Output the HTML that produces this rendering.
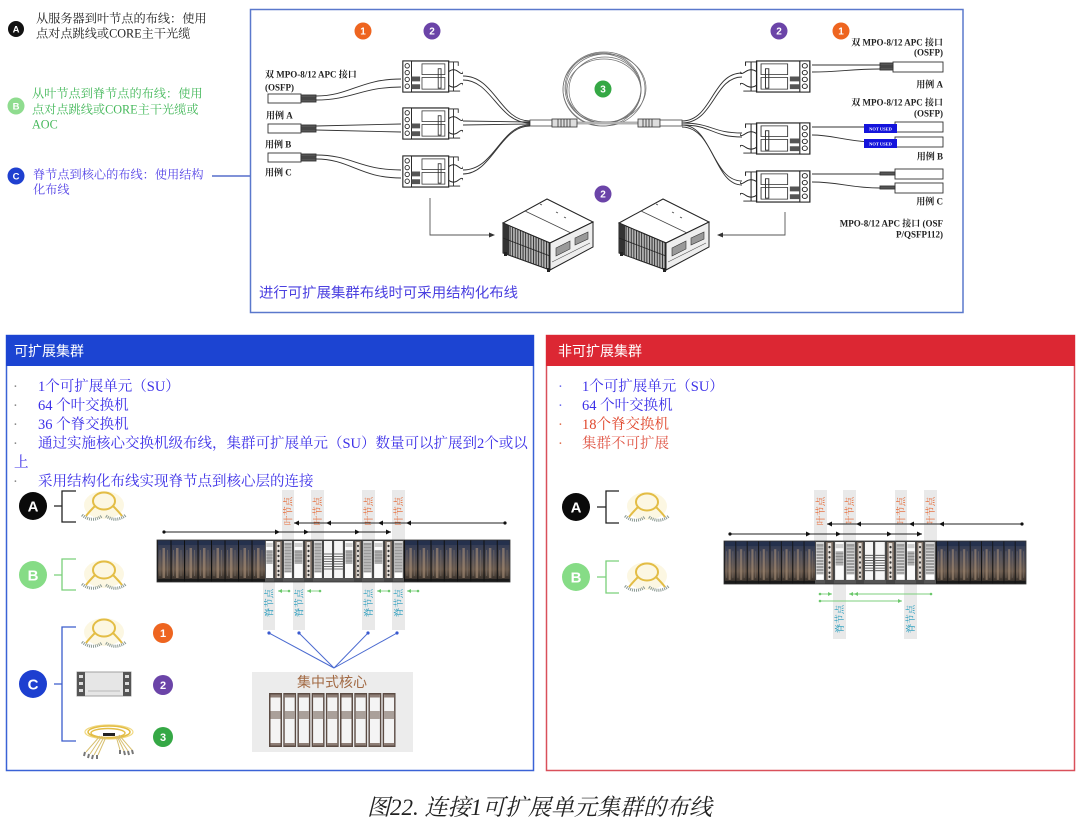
<!DOCTYPE html>
<html><head><meta charset="utf-8"><style>
html,body{margin:0;padding:0;background:#fff;}
svg{display:block;}
.sf{font-family:"Liberation Serif","Noto Serif CJK SC",serif;}
.ss{font-family:"Liberation Sans","Noto Sans CJK SC",sans-serif;}
</style></head><body>
<svg width="1080" height="825" viewBox="0 0 1080 825" xmlns="http://www.w3.org/2000/svg">
<defs>
 <linearGradient id="rk" x1="0" y1="0" x2="0" y2="1">
  <stop offset="0" stop-color="#2b3652"/><stop offset="0.35" stop-color="#474856"/><stop offset="0.7" stop-color="#6b5a4c"/><stop offset="1" stop-color="#2a2622"/>
 </linearGradient>
 <g id="rtile">
  <rect width="13.5" height="42" fill="url(#rk)"/>
  <rect x="0" width="1.1" height="42" fill="#111"/>
  <rect x="1" y="0" width="12.5" height="5" fill="#25314d"/>
  <rect x="5.5" y="8" width="2.5" height="30" fill="#a89078" opacity="0.6"/>
  <rect x="2.5" y="10" width="1" height="26" fill="#7a7068" opacity="0.6"/>
  <rect x="10" y="10" width="1" height="26" fill="#7a7068" opacity="0.6"/>
  <rect x="1" y="39" width="12.5" height="3" fill="#1a1a1a"/>
 </g>
 <pattern id="pL1" x="157" y="540" width="13.5" height="42" patternUnits="userSpaceOnUse" viewBox="0 0 13.5 42" preserveAspectRatio="none"><use href="#rtile"/></pattern>
 <pattern id="pL2" x="404" y="540" width="13.25" height="42" patternUnits="userSpaceOnUse" viewBox="0 0 13.5 42" preserveAspectRatio="none"><use href="#rtile"/></pattern>
 <pattern id="pR1" x="724" y="541" width="11.375" height="43" patternUnits="userSpaceOnUse" viewBox="0 0 13.5 42" preserveAspectRatio="none"><use href="#rtile"/></pattern>
 <pattern id="pR2" x="936" y="541" width="11.25" height="43" patternUnits="userSpaceOnUse" viewBox="0 0 13.5 42" preserveAspectRatio="none"><use href="#rtile"/></pattern>
 <pattern id="vl" x="0" y="0" width="2.6" height="10" patternUnits="userSpaceOnUse"><rect width="2.6" height="10" fill="#b4b4b4"/><rect width="0.9" height="10" fill="#2a2a2a"/></pattern>

 <symbol id="W" viewBox="0 0 10 42" preserveAspectRatio="none">
  <rect x="0.5" y="0.5" width="9" height="41" fill="#fafafa" stroke="#4a4a4a"/>
  <rect x="1.5" y="3" width="7" height="4" fill="#cfcfcf"/>
  <rect x="1.5" y="10" width="7" height="14" fill="#b0b0b0"/>
  <path d="M1.5,12H8.5M1.5,15H8.5M1.5,18H8.5M1.5,21H8.5" stroke="#808080" stroke-width="0.7"/>
  <rect x="0" y="38" width="10" height="4" fill="#555"/>
 </symbol>
 <symbol id="D" viewBox="0 0 10 42" preserveAspectRatio="none">
  <rect x="0.5" y="0.5" width="9" height="41" fill="#7a6e64" stroke="#3a3a3a"/>
  <rect x="3" y="2" width="4" height="36" fill="#e8e2dc"/>
  <g fill="#333"><circle cx="5" cy="6" r="1.2"/><circle cx="5" cy="11" r="1.2"/><circle cx="5" cy="16" r="1.2"/><circle cx="5" cy="21" r="1.2"/><circle cx="5" cy="26" r="1.2"/><circle cx="5" cy="31" r="1.2"/><circle cx="5" cy="35" r="1.2"/></g>
  <rect x="0" y="38" width="10" height="4" fill="#444"/>
 </symbol>
 <symbol id="S" viewBox="0 0 10 42" preserveAspectRatio="none">
  <rect x="0.5" y="0.5" width="9" height="41" fill="#d8d8d8" stroke="#4a4a4a"/>
  <rect x="1.5" y="3" width="7" height="29" fill="#9a9a9a"/>
  <path d="M1.5,6H8.5M1.5,9H8.5M1.5,12H8.5M1.5,15H8.5M1.5,18H8.5M1.5,21H8.5M1.5,24H8.5M1.5,27H8.5M1.5,30H8.5" stroke="#e4e4e4" stroke-width="0.8"/>
  <rect x="1.5" y="33" width="7" height="5" fill="#fff"/>
  <rect x="0" y="38" width="10" height="4" fill="#555"/>
 </symbol>
 <symbol id="H" viewBox="0 0 10 42" preserveAspectRatio="none">
  <rect x="0.5" y="0.5" width="9" height="41" fill="#f6f6f6" stroke="#4a4a4a"/>
  <path d="M1,14H9M1,16.5H9M1,19H9M1,21.5H9M1,24H9M1,26.5H9M1,29H9" stroke="#444" stroke-width="0.8"/>
  <rect x="0" y="38" width="10" height="4" fill="#555"/>
 </symbol>
 <symbol id="CR" viewBox="0 0 13 54" preserveAspectRatio="none">
  <rect x="0.75" y="0.75" width="11.5" height="52.5" fill="#f4f4f4" stroke="#5c4c44" stroke-width="1.5"/>
  <rect x="1.5" y="1.5" width="10" height="3" fill="#8e7e76"/>
  <rect x="1.5" y="18" width="10" height="8" fill="#c8c0bc"/>
  <path d="M1.5,19H11.5M1.5,21H11.5M1.5,23H11.5M1.5,25H11.5" stroke="#7a6a62" stroke-width="0.8"/>
  <rect x="1.5" y="50" width="10" height="2.5" fill="#8e7e76"/>
 </symbol>
 <symbol id="cas" viewBox="0 0 65 34" preserveAspectRatio="none">
  <rect x="2" y="1" width="48" height="32" fill="#fff" stroke="#222" stroke-width="1.2"/>
  <rect x="2" y="1" width="9" height="32" fill="#fff" stroke="#222" stroke-width="1"/>
  <g fill="#fff" stroke="#222" stroke-width="0.9"><circle cx="6.5" cy="6" r="2.3"/><circle cx="6.5" cy="13" r="2.3"/><circle cx="6.5" cy="20" r="2.3"/><circle cx="6.5" cy="27" r="2.3"/></g>
  <rect x="11" y="17" width="9" height="5" fill="#555"/>
  <rect x="11" y="25" width="9" height="5" fill="#555"/>
  <rect x="22" y="4" width="24" height="11" fill="none" stroke="#333" stroke-width="0.8"/>
  <rect x="22" y="18" width="24" height="12" fill="none" stroke="#333" stroke-width="0.8"/>
  <rect x="39" y="9" width="3" height="20" fill="none" stroke="#333" stroke-width="0.9"/>
  <path d="M50,2H60V6M50,32H62M55,2V32" fill="none" stroke="#222" stroke-width="0.9"/>
  <path d="M50,12q5,-4 10,0t5,0M50,26q5,4 10,0t5,0" fill="none" stroke="#222" stroke-width="0.9"/>
 </symbol>
 <g id="ring">
  <ellipse cx="22" cy="14" rx="20" ry="14" fill="#fbf4d6" opacity="0.7"/>
  <ellipse cx="22" cy="10" rx="11" ry="8.5" fill="none" stroke="#e3bd45" stroke-width="2"/>
  <path d="M13,15Q7,21 4,25M31,15Q37,21 40,25" fill="none" stroke="#e3bd45" stroke-width="2"/>
  <path d="M0,24Q10,32 20,25M24,25Q34,32 44,24" fill="none" stroke="#8c9a94" stroke-width="3" stroke-dasharray="1 1"/>
 </g>
 <g id="srv">
  <polygon points="503,223 547,199 593,222 550,243" fill="#fff" stroke="#222" stroke-width="1"/>
  <path d="M525,211L571,233M540,204l2,1M556,212l2,1M564,217l2,1" stroke="#444" stroke-width="0.7" fill="none"/>
  <polygon points="503,223 550,243 550,270 503,253" fill="url(#vl)" stroke="#222" stroke-width="1"/>
  <polygon points="503,223 509,226 509,255 503,253" fill="#333"/>
  <path d="M503,238L550,256" stroke="#222" stroke-width="0.8"/>
  <polygon points="550,243 593,222 593,247 550,270" fill="#eee" stroke="#222" stroke-width="1"/>
  <path d="M556,248l14,-7v8l-14,7zM575,238l13,-6v7l-13,6z" fill="#999" stroke="#333" stroke-width="0.6"/>
  <path d="M552,262l38,-19" stroke="#555" stroke-width="0.6"/>
  <rect x="547" y="268" width="3" height="4" fill="#222"/><rect x="504" y="252" width="3" height="4" fill="#222"/>
 </g>
</defs>

<!-- ===== Top-left legend ===== -->
<circle cx="16" cy="29" r="8" fill="#111"/>
<text x="16" y="32.5" font-size="9.5" fill="#fff" text-anchor="middle" font-weight="bold" class="ss">A</text>
<text x="36" y="22.5" font-size="12.2" fill="#222" class="sf">从服务器到叶节点的布线：使用</text>
<text x="36" y="37.5" font-size="12.2" fill="#222" class="sf">点对点跳线或CORE主干光缆</text>

<circle cx="16" cy="106" r="8.5" fill="#8fdc8f"/>
<text x="16" y="109.5" font-size="9.5" fill="#fff" text-anchor="middle" font-weight="bold" class="ss">B</text>
<text x="32" y="97.5" font-size="12.2" fill="#44b85a" class="sf">从叶节点到脊节点的布线：使用</text>
<text x="32" y="113.5" font-size="12.2" fill="#44b85a" class="sf">点对点跳线或CORE主干光缆或</text>
<text x="32" y="128.5" font-size="12.2" fill="#44b85a" class="sf">AOC</text>

<circle cx="16" cy="176" r="8.5" fill="#1f40d0"/>
<text x="16" y="179.5" font-size="9.5" fill="#fff" text-anchor="middle" font-weight="bold" class="ss">C</text>
<text x="33" y="178.5" font-size="12.2" fill="#5544e6" class="sf">脊节点到核心的布线：使用结构</text>
<text x="33" y="193.5" font-size="12.2" fill="#5544e6" class="sf">化布线</text>
<line x1="212" y1="176" x2="250" y2="176" stroke="#3550c0" stroke-width="1.2"/>

<!-- ===== Top frame ===== -->
<rect x="250.5" y="9.5" width="712.5" height="303" fill="none" stroke="#5a78cc" stroke-width="1.5"/>

<g class="ss" font-size="10" font-weight="bold" fill="#fff" text-anchor="middle">
 <circle cx="363" cy="31" r="8.5" fill="#ee6520"/><text x="363" y="34.5">1</text>
 <circle cx="432" cy="31" r="8.5" fill="#6b44a8"/><text x="432" y="34.5">2</text>
 <circle cx="779" cy="31" r="8.5" fill="#6b44a8"/><text x="779" y="34.5">2</text>
 <circle cx="841" cy="31" r="8.5" fill="#ee6520"/><text x="841" y="34.5">1</text>
</g>

<g fill="none" stroke="#707070" stroke-width="0.7">
 <ellipse cx="604" cy="89" rx="41" ry="37"/>
 <ellipse cx="603" cy="88" rx="38" ry="35"/>
 <ellipse cx="605" cy="90" rx="36" ry="33"/>
 <ellipse cx="602" cy="90" rx="39" ry="36"/>
 <ellipse cx="606" cy="88" rx="40" ry="34"/>
 <ellipse cx="604" cy="91" rx="37" ry="32"/>
</g>
<circle cx="603" cy="89" r="8.5" fill="#35a845"/>
<text x="603" y="92.5" font-size="10" font-weight="bold" fill="#fff" text-anchor="middle" class="ss">3</text>

<line x1="575" y1="123" x2="640" y2="123" stroke="#666" stroke-width="2.6"/>
<line x1="575" y1="123" x2="640" y2="123" stroke="#fff" stroke-width="1"/>
<rect x="530" y="120" width="22" height="6" fill="#fff" stroke="#444" stroke-width="0.8"/>
<rect x="552" y="119" width="25" height="8" fill="#ddd" stroke="#333" stroke-width="0.8"/>
<path d="M558,119v8M561,119v8M564,119v8M567,119v8M570,119v8" stroke="#333" stroke-width="0.8"/>
<rect x="638" y="119" width="22" height="8" fill="#ddd" stroke="#333" stroke-width="0.8"/>
<path d="M643,119v8M646,119v8M649,119v8M652,119v8" stroke="#333" stroke-width="0.8"/>
<rect x="660" y="120" width="22" height="6" fill="#fff" stroke="#444" stroke-width="0.8"/>

<g fill="none" stroke="#333" stroke-width="0.9">
 <path d="M463,76C495,76 500,121 530,121"/>
 <path d="M463,80C492,80 498,123 530,123"/>
 <path d="M463,121L530,122"/>
 <path d="M463,125L530,124"/>
 <path d="M463,170C495,170 500,125 530,125"/>
 <path d="M463,174C492,174 500,126 530,126"/>
 <path d="M682,121C712,121 712,73 742,73"/>
 <path d="M682,123C714,123 714,77 742,77"/>
 <path d="M682,123C712,123 712,133 742,133"/>
 <path d="M682,125C712,125 712,137 742,137"/>
 <path d="M682,125C712,125 712,181 742,181"/>
 <path d="M682,127C714,127 714,185 742,185"/>
 <path d="M316,96C350,96 360,79 401,79"/>
 <path d="M316,100C352,100 362,87 401,87"/>
 <path d="M316,126L401,124"/>
 <path d="M316,130L401,132"/>
 <path d="M316,155C352,155 360,170 401,170"/>
 <path d="M316,159C350,159 360,178 401,178"/>
 <path d="M812,65L880,65"/>
 <path d="M812,72C840,72 850,69 880,69"/>
 <path d="M812,127L880,127"/>
 <path d="M812,135C835,135 845,142 880,142"/>
 <path d="M812,174L880,174"/>
 <path d="M812,182C840,182 850,188 880,188"/>
</g>

<use href="#cas" x="401" y="60" width="62" height="33"/>
<use href="#cas" x="401" y="107" width="62" height="33"/>
<use href="#cas" x="401" y="155" width="62" height="33"/>
<use href="#cas" transform="translate(812,60) scale(-1,1)" width="72" height="33"/>
<use href="#cas" transform="translate(812,122) scale(-1,1)" width="72" height="33"/>
<use href="#cas" transform="translate(812,170) scale(-1,1)" width="72" height="33"/>

<g stroke="#333" stroke-width="0.9">
 <rect x="268" y="94" width="33" height="9" fill="#fff"/><rect x="301" y="95" width="15" height="3" fill="#555"/><rect x="301" y="99" width="15" height="3" fill="#555"/>
 <rect x="268" y="124" width="33" height="9" fill="#fff"/><rect x="301" y="125" width="15" height="3" fill="#555"/><rect x="301" y="129" width="15" height="3" fill="#555"/>
 <rect x="268" y="153" width="33" height="9" fill="#fff"/><rect x="301" y="154" width="15" height="3" fill="#555"/><rect x="301" y="158" width="15" height="3" fill="#555"/>
</g>
<g stroke="#333" stroke-width="0.9">
 <rect x="893" y="62" width="50" height="10" fill="#fff"/><rect x="880" y="63" width="13" height="3" fill="#555"/><rect x="880" y="67" width="13" height="3" fill="#555"/>
 <rect x="895" y="122" width="48" height="10" fill="#fff"/><rect x="880" y="125" width="15" height="3" fill="#555"/>
 <rect x="895" y="137" width="48" height="10" fill="#fff"/><rect x="880" y="140" width="15" height="3" fill="#555"/>
 <rect x="895" y="169" width="48" height="10" fill="#fff"/><rect x="880" y="172" width="15" height="3" fill="#555"/>
 <rect x="895" y="183" width="48" height="10" fill="#fff"/><rect x="880" y="186" width="15" height="3" fill="#555"/>
</g>
<rect x="864" y="124" width="33" height="9" fill="#1414dc"/>
<rect x="864" y="139" width="33" height="9" fill="#1414dc"/>
<text x="880.5" y="130.5" font-size="4.5" font-weight="bold" fill="#fff" text-anchor="middle" class="sf">NOT USED</text>
<text x="880.5" y="145.5" font-size="4.5" font-weight="bold" fill="#fff" text-anchor="middle" class="sf">NOT USED</text>

<g class="sf" font-size="9" font-weight="bold" fill="#222">
 <text x="265" y="77.5">双 MPO-8/12 APC 接口</text>
 <text x="265" y="90.5">(OSFP)</text>
 <text x="266" y="118.5">用例 A</text>
 <text x="265" y="147.5">用例 B</text>
 <text x="265" y="175.5">用例 C</text>
</g>
<g class="sf" font-size="9" font-weight="bold" fill="#222" text-anchor="end">
 <text x="943" y="45.5">双 MPO-8/12 APC 接口</text>
 <text x="943" y="55.5">(OSFP)</text>
 <text x="943" y="87.5">用例 A</text>
 <text x="943" y="105.5">双 MPO-8/12 APC 接口</text>
 <text x="943" y="116.5">(OSFP)</text>
 <text x="943" y="159.5">用例 B</text>
 <text x="943" y="204.5">用例 C</text>
 <text x="943" y="226.5">MPO-8/12 APC 接口 (OSF</text>
 <text x="943" y="237.5">P/QSFP112)</text>
</g>

<use href="#srv"/>
<use href="#srv" x="116"/>
<circle cx="603" cy="194" r="8.5" fill="#6b44a8"/>
<text x="603" y="197.5" font-size="10" font-weight="bold" fill="#fff" text-anchor="middle" class="ss">2</text>
<path d="M430,198V235H490" fill="none" stroke="#555" stroke-width="0.9"/>
<polygon points="495,235 489,232.5 489,237.5" fill="#333"/>
<path d="M785,212V235H722" fill="none" stroke="#555" stroke-width="0.9"/>
<polygon points="717,235 723,232.5 723,237.5" fill="#333"/>

<text x="259" y="297.5" font-size="14.4" fill="#4b40e0" class="ss">进行可扩展集群布线时可采用结构化布线</text>

<!-- ===== Bottom-left panel ===== -->
<rect x="6.5" y="335.5" width="527" height="435" fill="none" stroke="#3a62d6" stroke-width="1.5"/>
<rect x="6" y="335" width="528" height="31" fill="#1c44d2"/>
<text x="14" y="356" font-size="14" fill="#fff" class="ss">可扩展集群</text>
<g class="sf" font-size="14.5">
 <g fill="#888"><text x="13" y="391">·</text><text x="13" y="410">·</text><text x="13" y="429">·</text><text x="13" y="448">·</text><text x="13" y="486">·</text></g>
 <g fill="#3c30e8">
  <text x="38" y="391">1个可扩展单元（SU）</text>
  <text x="38" y="410">64 个叶交换机</text>
  <text x="38" y="429">36 个脊交换机</text>
  <text x="38" y="448">通过实施核心交换机级布线，集群可扩展单元（SU）数量可以扩展到2个或以</text>
  <text x="14" y="467">上</text>
  <text x="38" y="486">采用结构化布线实现脊节点到核心层的连接</text>
 </g>
</g>

<circle cx="33" cy="506" r="14" fill="#0a0a0a"/>
<text x="33" y="511.5" font-size="15" font-weight="bold" fill="#fff" text-anchor="middle" class="ss">A</text>
<path d="M54,506H62M76,491H62V522H76" fill="none" stroke="#222" stroke-width="1.3"/>
<use href="#ring" x="82" y="491"/>
<circle cx="33" cy="575" r="14" fill="#86dc86"/>
<text x="33" y="580.5" font-size="15" font-weight="bold" fill="#fff" text-anchor="middle" class="ss">B</text>
<path d="M54,575H62M76,559H62V590H76" fill="none" stroke="#7ad07a" stroke-width="1.3"/>
<use href="#ring" x="82" y="560"/>
<circle cx="33" cy="684" r="14" fill="#1d3fd0"/>
<text x="33" y="689.5" font-size="15" font-weight="bold" fill="#fff" text-anchor="middle" class="ss">C</text>
<path d="M54,684H62M76,627H62V741H76" fill="none" stroke="#3a5ccc" stroke-width="1.3"/>
<use href="#ring" x="82" y="618"/>
<rect x="77" y="672" width="54" height="24" fill="#e6e6e6" stroke="#a0a0a0"/>
<rect x="77" y="672" width="8" height="24" fill="#555"/><rect x="123" y="672" width="8" height="24" fill="#555"/>
<g fill="#ddd"><rect x="79" y="675" width="4" height="3"/><rect x="79" y="682" width="4" height="3"/><rect x="79" y="689" width="4" height="3"/><rect x="125" y="675" width="4" height="3"/><rect x="125" y="682" width="4" height="3"/><rect x="125" y="689" width="4" height="3"/></g>
<line x1="88" y1="691" x2="120" y2="691" stroke="#bbb"/>
<g fill="none">
 <ellipse cx="109" cy="732" rx="24" ry="7" stroke="#f0d880" stroke-width="1.2"/>
 <ellipse cx="109" cy="732" rx="21" ry="6" stroke="#e3bd45" stroke-width="1.6"/>
 <ellipse cx="108" cy="733" rx="17" ry="4.5" stroke="#e3bd45" stroke-width="1.4"/>
 <path d="M100,736L86,752M102,736L90,754M104,737L94,755M106,737L98,755M116,736L120,750M117,736L124,751M118,736L128,751M119,735L132,750" stroke="#d8c070" stroke-width="1"/>
 <path d="M85,752l-1,4M89,754l-1,4M93,755l-1,4M97,755l0,4M120,750l0,4M124,751l1,4M128,751l1,4M132,750l1,4" stroke="#777" stroke-width="2"/>
</g>
<rect x="103" y="733" width="12" height="3" fill="#222"/>
<g class="ss" font-size="11" font-weight="bold" fill="#fff" text-anchor="middle">
 <circle cx="163" cy="633" r="10" fill="#ee6520"/><text x="163" y="637">1</text>
 <circle cx="163" cy="685" r="10" fill="#6b44a8"/><text x="163" y="689">2</text>
 <circle cx="163" cy="737" r="10" fill="#35a845"/><text x="163" y="741">3</text>
</g>

<g fill="#e9e9e9">
 <rect x="282" y="490" width="12" height="50"/><rect x="311" y="490" width="13" height="50"/><rect x="362" y="490" width="13" height="50"/><rect x="392" y="490" width="13" height="50"/>
 <rect x="263" y="582" width="12" height="48"/><rect x="293" y="582" width="12" height="48"/><rect x="362" y="582" width="13" height="48"/><rect x="392" y="582" width="13" height="48"/>
</g>
<rect x="157" y="540" width="108" height="42" fill="url(#pL1)"/>
<rect x="404" y="540" width="106" height="42" fill="url(#pL2)"/>
<use href="#W" x="265" y="540" width="9" height="42"/>
<use href="#D" x="274" y="540" width="9" height="42"/>
<use href="#S" x="283" y="540" width="10" height="42"/>
<use href="#W" x="293" y="540" width="11" height="42"/>
<use href="#D" x="304" y="540" width="9" height="42"/>
<use href="#S" x="313" y="540" width="10" height="42"/>
<use href="#H" x="323" y="540" width="10" height="42"/>
<use href="#H" x="333" y="540" width="11" height="42"/>
<use href="#W" x="344" y="540" width="10" height="42"/>
<use href="#D" x="354" y="540" width="8" height="42"/>
<use href="#S" x="362" y="540" width="11" height="42"/>
<use href="#W" x="373" y="540" width="11" height="42"/>
<use href="#D" x="384" y="540" width="9" height="42"/>
<use href="#S" x="393" y="540" width="11" height="42"/>
<rect x="157" y="540" width="353" height="42" fill="none" stroke="#333" stroke-width="0.8"/>

<g class="sf" font-size="9.5" fill="#e8622a" text-anchor="middle">
 <text transform="translate(288,511) rotate(-90)" dy="0.35em">叶节点</text>
 <text transform="translate(317.5,511) rotate(-90)" dy="0.35em">叶节点</text>
 <text transform="translate(368.5,511) rotate(-90)" dy="0.35em">叶节点</text>
 <text transform="translate(398.5,511) rotate(-90)" dy="0.35em">叶节点</text>
</g>
<g class="sf" font-size="9.5" fill="#219bbd" text-anchor="middle">
 <text transform="translate(269,603) rotate(-90)" dy="0.35em">脊节点</text>
 <text transform="translate(299,603) rotate(-90)" dy="0.35em">脊节点</text>
 <text transform="translate(368.5,603) rotate(-90)" dy="0.35em">脊节点</text>
 <text transform="translate(398.5,603) rotate(-90)" dy="0.35em">脊节点</text>
</g>
<g stroke="#222" stroke-width="0.9"><line x1="164" y1="532" x2="391" y2="532"/><line x1="294" y1="523" x2="505" y2="523"/></g>
<g fill="#111">
 <circle cx="164" cy="532" r="1.6"/><circle cx="505" cy="523" r="1.6"/>
 <polygon points="280,532 275,529.5 275,534.5"/><polygon points="309,532 304,529.5 304,534.5"/><polygon points="360,532 355,529.5 355,534.5"/><polygon points="391,532 386,529.5 386,534.5"/>
 <polygon points="294,523 299,520.5 299,525.5"/><polygon points="326,523 331,520.5 331,525.5"/><polygon points="378,523 383,520.5 383,525.5"/><polygon points="406,523 411,520.5 411,525.5"/>
</g>
<g stroke="#7ccf7c" stroke-width="0.9"><line x1="278" y1="591" x2="289" y2="591"/><line x1="307" y1="591" x2="320" y2="591"/><line x1="377" y1="591" x2="389" y2="591"/><line x1="407" y1="591" x2="418" y2="591"/></g>
<g fill="#6cc86c">
 <polygon points="278,591 282,589 282,593"/><polygon points="307,591 311,589 311,593"/><polygon points="377,591 381,589 381,593"/><polygon points="407,591 411,589 411,593"/>
 <circle cx="289" cy="591" r="1.3"/><circle cx="320" cy="591" r="1.3"/><circle cx="389" cy="591" r="1.3"/><circle cx="418" cy="591" r="1.3"/>
</g>
<g stroke="#4a6ad0" stroke-width="1"><line x1="269" y1="633" x2="334" y2="668"/><line x1="299" y1="633" x2="334" y2="668"/><line x1="368" y1="633" x2="334" y2="668"/><line x1="397" y1="633" x2="334" y2="668"/></g>
<g fill="#3a5ad0"><circle cx="269" cy="633" r="1.6"/><circle cx="299" cy="633" r="1.6"/><circle cx="368" cy="633" r="1.6"/><circle cx="397" cy="633" r="1.6"/></g>
<rect x="252" y="672" width="161" height="80" fill="#ececec"/>
<text x="332" y="687" font-size="14" fill="#a26a44" text-anchor="middle" class="ss">集中式核心</text>
<use href="#CR" x="269" y="693" width="13" height="54"/>
<use href="#CR" x="283.2" y="693" width="13" height="54"/>
<use href="#CR" x="297.4" y="693" width="13" height="54"/>
<use href="#CR" x="311.6" y="693" width="13" height="54"/>
<use href="#CR" x="325.8" y="693" width="13" height="54"/>
<use href="#CR" x="340" y="693" width="13" height="54"/>
<use href="#CR" x="354.2" y="693" width="13" height="54"/>
<use href="#CR" x="368.4" y="693" width="13" height="54"/>
<use href="#CR" x="382.6" y="693" width="13" height="54"/>

<!-- ===== Bottom-right panel ===== -->
<rect x="546.5" y="335.5" width="528" height="435" fill="none" stroke="#d9505a" stroke-width="1.5"/>
<rect x="546" y="335" width="529" height="31" fill="#dc2733"/>
<text x="558" y="356" font-size="14" fill="#fff" class="ss">非可扩展集群</text>
<g class="sf" font-size="14.5">
 <text x="558" y="391" fill="#6a6aee">·</text><text x="558" y="410" fill="#6a6aee">·</text>
 <text x="558" y="429" fill="#e07050">·</text><text x="558" y="448" fill="#e07050">·</text>
 <text x="582" y="391" fill="#3c30e8">1个可扩展单元（SU）</text>
 <text x="582" y="410" fill="#3c30e8">64 个叶交换机</text>
 <text x="582" y="429" fill="#e0452a">18个脊交换机</text>
 <text x="582" y="448" fill="#e05545">集群不可扩展</text>
</g>
<circle cx="576" cy="507" r="14" fill="#0a0a0a"/>
<text x="576" y="512.5" font-size="15" font-weight="bold" fill="#fff" text-anchor="middle" class="ss">A</text>
<path d="M597,507H606M619,491H606V523H619" fill="none" stroke="#222" stroke-width="1.3"/>
<use href="#ring" x="625" y="492"/>
<circle cx="576" cy="577" r="14" fill="#86dc86"/>
<text x="576" y="582.5" font-size="15" font-weight="bold" fill="#fff" text-anchor="middle" class="ss">B</text>
<path d="M597,577H606M619,561H606V593H619" fill="none" stroke="#7ad07a" stroke-width="1.3"/>
<use href="#ring" x="625" y="562"/>

<g fill="#e9e9e9">
 <rect x="814" y="490" width="13" height="51"/><rect x="843" y="490" width="13" height="51"/><rect x="895" y="490" width="12" height="51"/><rect x="924" y="490" width="13" height="51"/>
 <rect x="833" y="584" width="13" height="55"/><rect x="904" y="584" width="13" height="55"/>
</g>
<rect x="724" y="541" width="91" height="43" fill="url(#pR1)"/>
<rect x="936" y="541" width="90" height="43" fill="url(#pR2)"/>
<use href="#S" x="815" y="541" width="10" height="43"/>
<use href="#D" x="825" y="541" width="9" height="43"/>
<use href="#W" x="834" y="541" width="11" height="43"/>
<use href="#S" x="845" y="541" width="11" height="43"/>
<use href="#D" x="856" y="541" width="8" height="43"/>
<use href="#H" x="864" y="541" width="10" height="43"/>
<use href="#H" x="874" y="541" width="12" height="43"/>
<use href="#D" x="886" y="541" width="9" height="43"/>
<use href="#S" x="895" y="541" width="11" height="43"/>
<use href="#W" x="906" y="541" width="10" height="43"/>
<use href="#D" x="916" y="541" width="8" height="43"/>
<use href="#S" x="924" y="541" width="12" height="43"/>
<rect x="724" y="541" width="302" height="43" fill="none" stroke="#333" stroke-width="0.8"/>

<g class="sf" font-size="9.5" fill="#e8622a" text-anchor="middle">
 <text transform="translate(820.5,511) rotate(-90)" dy="0.35em">叶节点</text>
 <text transform="translate(849.5,511) rotate(-90)" dy="0.35em">叶节点</text>
 <text transform="translate(901,511) rotate(-90)" dy="0.35em">叶节点</text>
 <text transform="translate(930.5,511) rotate(-90)" dy="0.35em">叶节点</text>
</g>
<g class="sf" font-size="9.5" fill="#219bbd" text-anchor="middle">
 <text transform="translate(839.5,619) rotate(-90)" dy="0.35em">脊节点</text>
 <text transform="translate(910.5,619) rotate(-90)" dy="0.35em">脊节点</text>
</g>
<g stroke="#222" stroke-width="0.9"><line x1="730" y1="534" x2="922" y2="534"/><line x1="827" y1="524" x2="1022" y2="524"/></g>
<g fill="#111">
 <circle cx="730" cy="534" r="1.6"/><circle cx="1022" cy="524" r="1.6"/>
 <polygon points="811,534 806,531.5 806,536.5"/><polygon points="841,534 836,531.5 836,536.5"/><polygon points="892,534 887,531.5 887,536.5"/><polygon points="922,534 917,531.5 917,536.5"/>
 <polygon points="827,524 832,521.5 832,526.5"/><polygon points="856,524 861,521.5 861,526.5"/><polygon points="909,524 914,521.5 914,526.5"/><polygon points="939,524 944,521.5 944,526.5"/>
</g>
<g stroke="#7ccf7c" stroke-width="0.9"><line x1="820" y1="594" x2="832" y2="594"/><line x1="849" y1="594" x2="931" y2="594"/><line x1="820" y1="601" x2="902" y2="601"/></g>
<g fill="#6cc86c">
 <polygon points="832,594 828,592 828,596"/><polygon points="849,594 853,592 853,596"/><polygon points="854,594 858,592 858,596"/><polygon points="902,601 898,599 898,603"/>
 <circle cx="820" cy="594" r="1.3"/><circle cx="931" cy="594" r="1.3"/><circle cx="820" cy="601" r="1.3"/>
</g>

<text x="367" y="815" font-size="23" font-style="italic" fill="#222" class="sf">图22. 连接1可扩展单元集群的布线</text>
</svg>
</body></html>
